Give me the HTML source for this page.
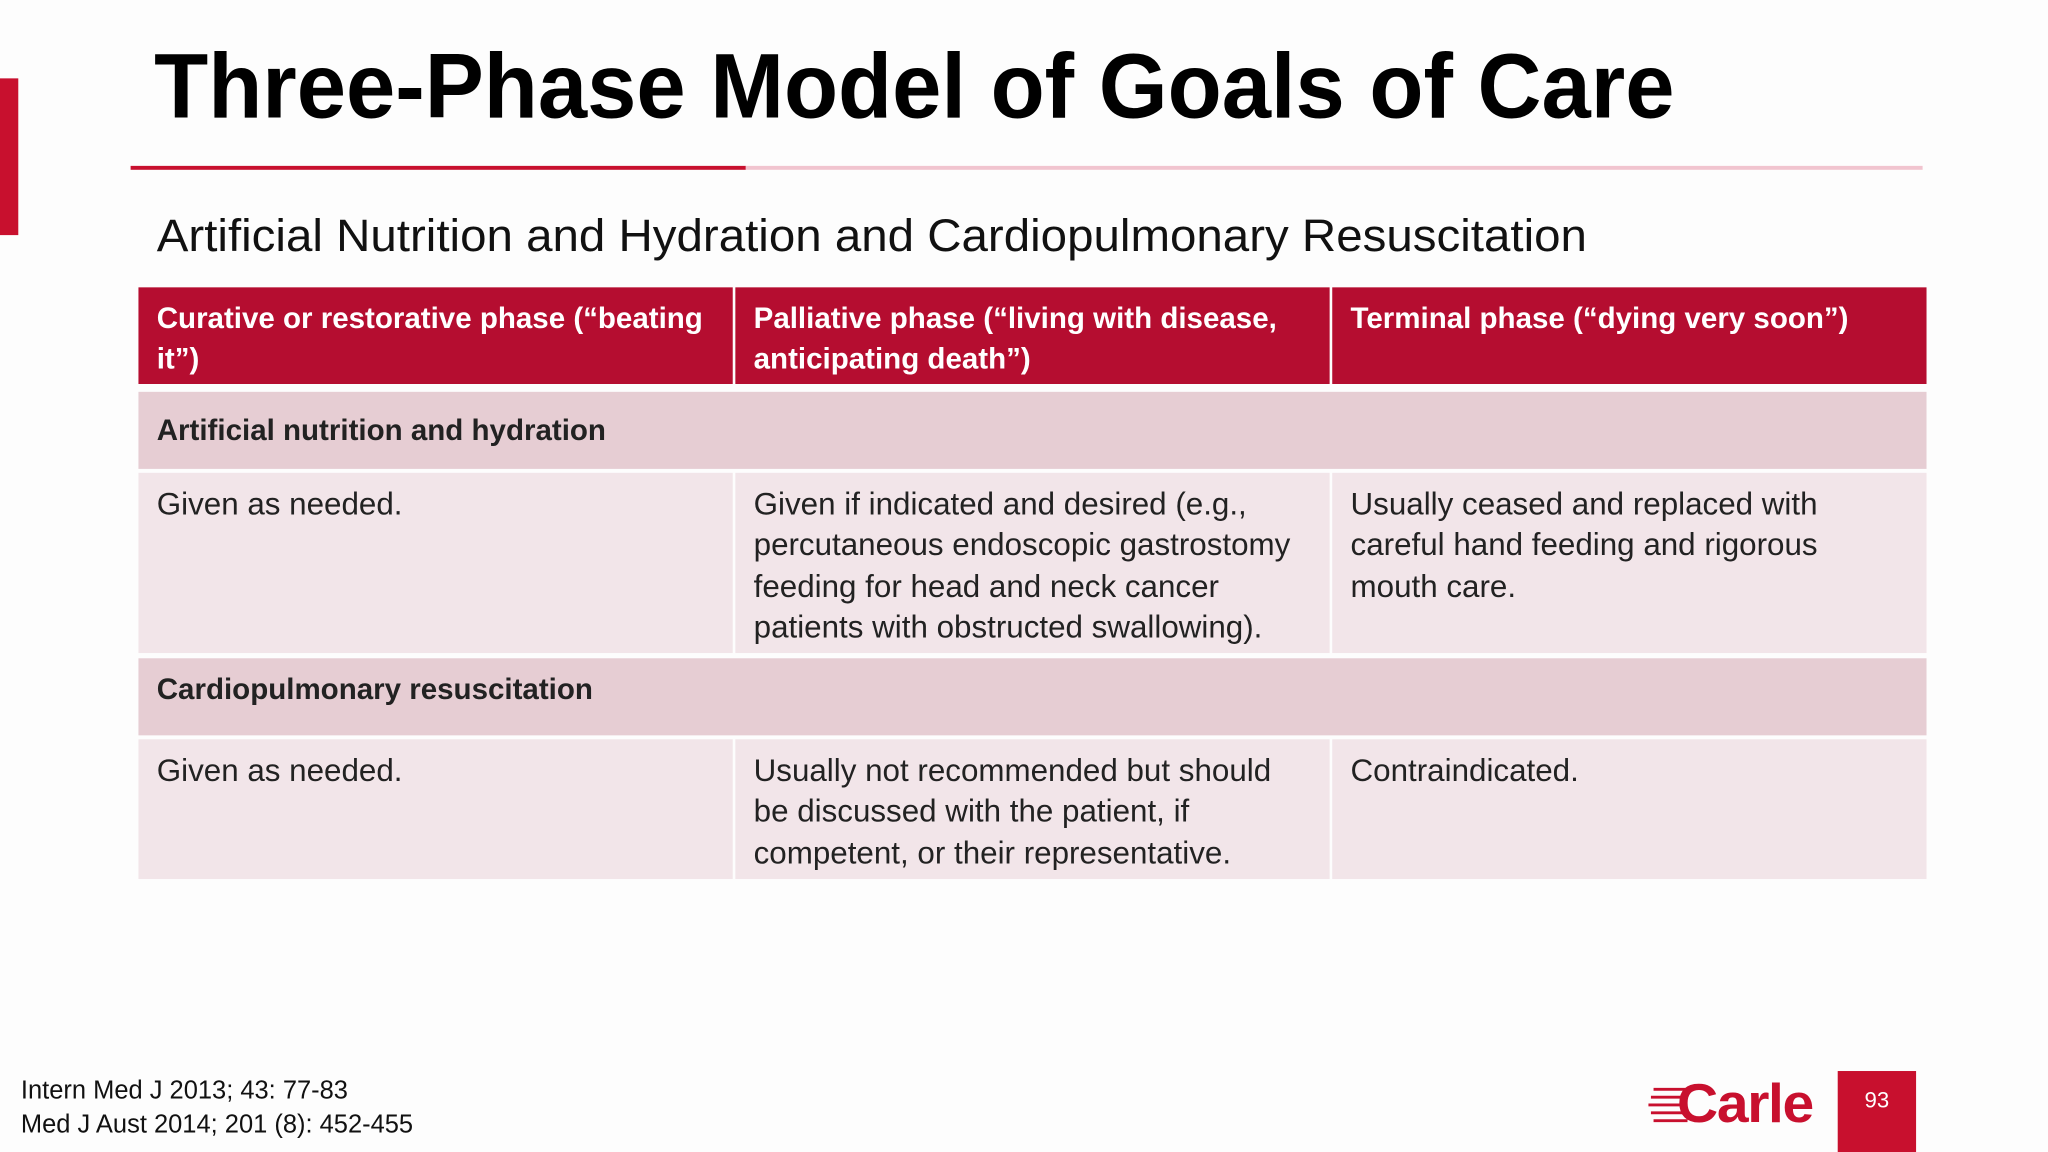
<!DOCTYPE html>
<html><head><meta charset="utf-8">
<style>
html,body{margin:0;padding:0;background:#fdfdfd;}
body{width:2048px;height:1152px;overflow:hidden;position:relative;font-family:"Liberation Sans",sans-serif;}
#s{position:absolute;left:0;top:0;width:1568px;height:882px;transform:scale(1.30612);transform-origin:0 0;}
.a{position:absolute;}
.fit{white-space:nowrap;transform-origin:0 0;display:inline-block;}
.cell{position:absolute;box-sizing:border-box;padding:9px 0 0 14px;font-size:24px;line-height:31.3px;color:#222;white-space:nowrap;}
.hd{background:#b50d30;color:#fff;font-weight:bold;font-size:22.6px;padding-top:8px;}
.sec{background:#e6cdd3;font-weight:bold;color:#222;font-size:22.6px;padding-top:14px;}
.bd{background:#f2e5e9;}
</style></head><body>
<div id="s">
<div class="a" style="left:0;top:60px;width:14px;height:120px;background:#c8102e"></div>
<div class="a fit" data-w="1164" style="left:118px;top:24px;font-size:70px;font-weight:bold;color:#000;line-height:84px">Three-Phase Model of Goals of Care</div>
<div class="a" style="left:100px;top:127px;width:471px;height:3px;background:#c8102e"></div>
<div class="a" style="left:571px;top:127px;width:901px;height:3px;background:#f1c4cf"></div>
<div class="a fit" data-w="1095" style="left:120px;top:160px;font-size:35px;color:#111;line-height:42px">Artificial Nutrition and Hydration and Cardiopulmonary Resuscitation</div>

<div>
<div class="cell hd" style="left:106px;top:220px;width:455px;height:74px">Curative or restorative phase (“beating<br>it”)</div>
<div class="cell hd" style="left:563px;top:220px;width:455px;height:74px">Palliative phase (“living with disease,<br>anticipating death”)</div>
<div class="cell hd" style="left:1020px;top:220px;width:455px;height:74px">Terminal phase (“dying very soon”)</div>

<div class="cell sec" style="left:106px;top:300px;width:1369px;height:59px">Artificial nutrition and hydration</div>
<div class="cell bd" style="left:106px;top:362px;width:455px;height:138px">Given as needed.</div>
<div class="cell bd" style="left:563px;top:362px;width:455px;height:138px">Given if indicated and desired (e.g.,<br>percutaneous endoscopic gastrostomy<br>feeding for head and neck cancer<br>patients with obstructed swallowing).</div>
<div class="cell bd" style="left:1020px;top:362px;width:455px;height:138px">Usually ceased and replaced with<br>careful hand feeding and rigorous<br>mouth care.</div>

<div class="cell sec" style="left:106px;top:504px;width:1369px;height:59px;padding-top:8px">Cardiopulmonary resuscitation</div>
<div class="cell bd" style="left:106px;top:566px;width:455px;height:107px">Given as needed.</div>
<div class="cell bd" style="left:563px;top:566px;width:455px;height:107px">Usually not recommended but should<br>be discussed with the patient, if<br>competent, or their representative.</div>
<div class="cell bd" style="left:1020px;top:566px;width:455px;height:107px">Contraindicated.</div>
</div>

<div class="a" style="left:16px;top:822px;font-size:19.5px;line-height:26px;color:#111;white-space:nowrap">Intern Med J 2013; 43: 77-83<br>Med J Aust 2014; 201 (8): 452-455</div>

<div class="a" style="left:1262px;top:824px;width:130px;height:44px">
<svg width="30" height="44" style="position:absolute;left:0;top:0"><g stroke="#c8102e" stroke-width="2.2"><line x1="4" y1="10" x2="30" y2="10"/><line x1="2" y1="16" x2="30" y2="16"/><line x1="0" y1="22" x2="30" y2="22"/><line x1="2" y1="28" x2="30" y2="28"/><line x1="4" y1="34" x2="30" y2="34"/></g></svg>
<div class="a fit" data-w="104" style="left:22px;top:-2px;font-size:42px;font-weight:bold;color:#c8102e;line-height:46px;letter-spacing:-1px">Carle</div>
</div>
<div class="a" style="left:1407px;top:820px;width:60px;height:62px;background:#c8102e;color:#fff;font-size:17px;text-align:center;line-height:46px">93</div>
</div>
<script>
document.querySelectorAll('.fit[data-w]').forEach(function(el){
  var w=el.getBoundingClientRect().width/1.30612;
  var t=parseFloat(el.getAttribute('data-w'));
  if(w>0) el.style.transform='scaleX('+(t/w)+')';
});
</script>
</body></html>
